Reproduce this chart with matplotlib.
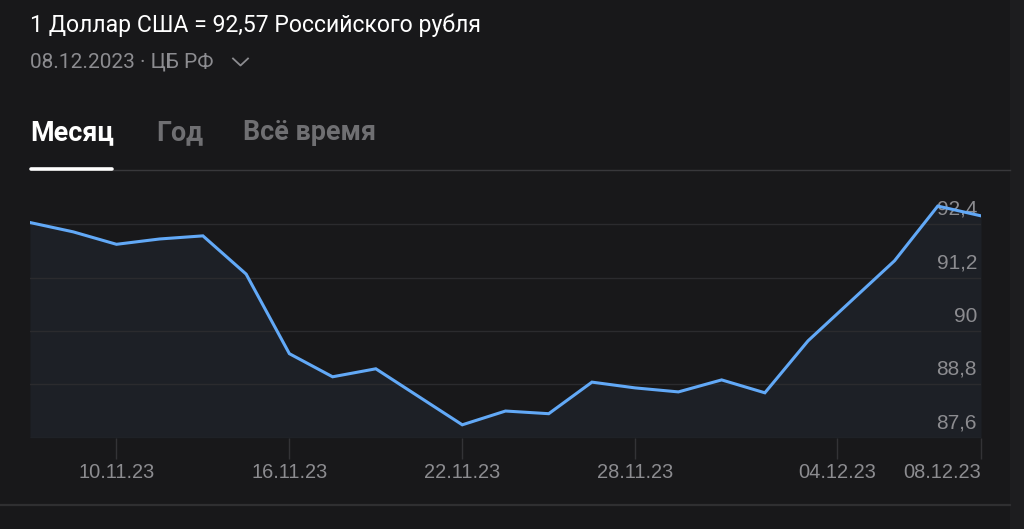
import numpy as np
import matplotlib
matplotlib.use("Agg")
import matplotlib.pyplot as plt
from matplotlib.lines import Line2D
from matplotlib.patches import Rectangle
import datetime as dt

# ---- data ----
dates = ["08.11", "09.11", "10.11", "11.11", "14.11", "15.11", "16.11", "17.11",
         "18.11", "21.11", "22.11", "23.11", "24.11", "25.11", "28.11", "29.11",
         "30.11", "01.12", "02.12", "05.12", "06.12", "07.12", "08.12"]
rates = [92.44, 92.23, 91.95, 92.07, 92.14, 91.28, 89.49, 88.97,
         89.15, 88.52, 87.89, 88.20, 88.14, 88.85, 88.72, 88.63,
         88.90, 88.61, 89.78, 90.68, 91.58, 92.81, 92.59]
tick_dates = ["10.11", "16.11", "22.11", "28.11", "04.12", "08.12"]
tick_labels = ["10.11.23", "16.11.23", "22.11.23", "28.11.23", "04.12.23", "08.12.23"]
y_ticks = [87.6, 88.8, 90.0, 91.2, 92.4]
y_tick_labels = ["87,6", "88,8", "90", "91,2", "92,4"]

title = "1 Доллар США = 92,57 Российского рубля"
subtitle = "08.12.2023 · ЦБ РФ"
tabs = ["Месяц", "Год", "Всё время"]

BG = "#18181a"
FILL = "#1d2026"
LINE = "#62a9f7"
GRID = "#2b2b2e"
GRAY = "#8c8c90"
TAB_GRAY = "#6f6f72"

def to_ord(s):
    d, m = s.split(".")
    return dt.date(2023, int(m), int(d)).toordinal()

W, H = 1024, 529
fig = plt.figure(figsize=(W / 100, H / 100), dpi=100, facecolor=BG)

def fx(px):
    return px / W

def fy(py):
    return 1 - py / H

# right darker strip and bottom separator
fig.add_artist(Rectangle((fx(1010), 0), 1 - fx(1010), 1, transform=fig.transFigure,
                         facecolor="#1d1d1f", edgecolor="none", zorder=0))
fig.add_artist(Line2D([0, fx(1010)], [fy(505), fy(505)], transform=fig.transFigure,
                      color="#2f2f31", lw=1.6))

# header
fig.text(fx(30), fy(25), title, color="white", fontsize=16.6, family="Roboto",
         ha="left", va="center")
fig.text(fx(30), fy(62), subtitle, color=GRAY, fontsize=15.0, family="Roboto",
         ha="left", va="center")
fig.add_artist(Line2D([fx(233), fx(240.5), fx(248)], [fy(58.5), fy(65.5), fy(58.5)],
                      transform=fig.transFigure, color=GRAY, lw=1.3))

tab_x = [30, 156, 243]
tab_c = ["white", TAB_GRAY, TAB_GRAY]
for t, x, c in zip(tabs, tab_x, tab_c):
    fig.text(fx(x), fy(133), t, color=c, fontsize=19.4, family="Roboto",
             fontweight="bold", ha="left", va="center")
fig.add_artist(Line2D([fx(113), fx(1010)], [fy(169.5), fy(169.5)],
                      transform=fig.transFigure, color="#38383b", lw=1.0))
fig.add_artist(Line2D([fx(31), fx(112)], [fy(169), fy(169)],
                      transform=fig.transFigure, color="white", lw=2.6,
                      solid_capstyle="round"))

# chart
left, right = 30, 981
top, bottom = 190, 437.7
ax = fig.add_axes([fx(left), 1 - bottom / H, (right - left) / W, (bottom - top) / H])
ax.set_facecolor("none")
for s in ax.spines.values():
    s.set_visible(False)

x = np.arange(len(rates))
ords = np.array([to_ord(d) for d in dates])
tick_pos = np.interp([to_ord(d) for d in tick_dates], ords, x)

ymin = 87.6
ymax = 87.6 + (bottom - top) / ((bottom - 224.3) / 4.8)
ax.set_xlim(0, len(rates) - 1)
ax.set_ylim(ymin, ymax)

for v in y_ticks:
    ax.axhline(v, color=GRID, lw=1.0, zorder=1)

ax.fill_between(x, rates, ymin, color=FILL, zorder=0.5, lw=0)

for v, lab in zip(y_ticks, y_tick_labels):
    ax.annotate(lab, xy=(1, v), xycoords=("axes fraction", "data"),
                xytext=(-4, 15), textcoords="offset pixels", ha="right", va="center",
                color=GRAY, fontsize=15, family="Liberation Sans", zorder=2)

ax.plot(x, rates, color=LINE, lw=2.2, zorder=3, solid_joinstyle="miter")

ax.set_yticks([])
ax.set_xticks(tick_pos)
ax.set_xticklabels(tick_labels, color=GRAY, fontsize=14.4, family="Liberation Sans")
ax.tick_params(axis="x", length=15, color="#333336", width=1, pad=3)
ax.get_xticklabels()[-1].set_ha("right")

fig.savefig("out.png", dpi=100, facecolor=BG)
